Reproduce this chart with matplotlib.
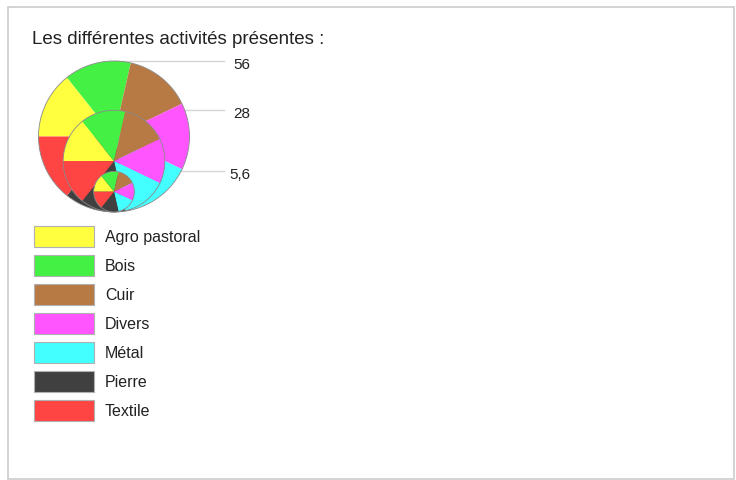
import matplotlib
matplotlib.use("Agg")
import matplotlib.pyplot as plt
from matplotlib.patches import Rectangle, Circle

# data
categories = ["Agro pastoral", "Bois", "Cuir", "Divers", "Métal", "Pierre", "Textile"]
colors = ["#ffff40", "#44f044", "#b87a44", "#ff55ff", "#44ffff", "#404040", "#ff4444"]
shares = [1, 1, 1, 1, 1, 1, 1]
sizes = [56, 28, 5.6]
size_labels = ["56", "28", "5,6"]

W, H = 736, 481
fig = plt.figure(figsize=(W / 100, H / 100), dpi=100)
ax = fig.add_axes([0, 0, 1, 1])
plt.rcParams['font.family'] = ['Liberation Sans', 'DejaVu Sans']


def py(y):
    # pixel row -> data y
    return H - y


# frame
ax.add_patch(Rectangle((8, py(480)), 726, 472, fill=False, edgecolor="#cccccc", lw=1.2, zorder=1))

ax.text(32, py(39), "Les différentes activités présentes :", fontsize=13.5,
        color="#222222", va="center", ha="left")

# nested proportional pies (Flannery scaling), all resting on the same bottom point
cx, bottom, rmax = 114, 213, 75.5
for i, (s, lab) in enumerate(zip(sizes, size_labels)):
    r = rmax * (s / max(sizes)) ** 0.57
    cy = bottom - r
    top = bottom - 2 * r
    ax.plot([cx, 224], [py(top), py(top)], color="#d5d5d5", lw=1, zorder=1)
    ax.text(250, py(top + 3), lab, fontsize=11, color="#222222", ha="right", va="center")
    wedges, _ = ax.pie(shares, colors=colors, startangle=180, counterclock=False,
                       center=(cx, py(cy)), radius=r, frame=True,
                       wedgeprops=dict(linewidth=0))
    for w in wedges:
        w.set_zorder(3 + i)
    ax.add_patch(Circle((cx, py(cy)), r, fill=False, edgecolor="#8a8a8a", lw=0.6, zorder=3 + i))

# legend
for k, (cat, col) in enumerate(zip(categories, colors)):
    y0 = 227 + k * 29
    ax.add_patch(Rectangle((34, py(y0 + 21)), 60, 21, facecolor=col, edgecolor="#b0b0b0", lw=0.8, zorder=3))
    ax.text(105, py(y0 + 10.5), cat, fontsize=11.5, color="#222222", va="center", ha="left")

ax.set_xlim(0, W)
ax.set_ylim(0, H)
ax.set_aspect("auto")
ax.axis("off")

fig.savefig("out.png", dpi=100, facecolor="white")
